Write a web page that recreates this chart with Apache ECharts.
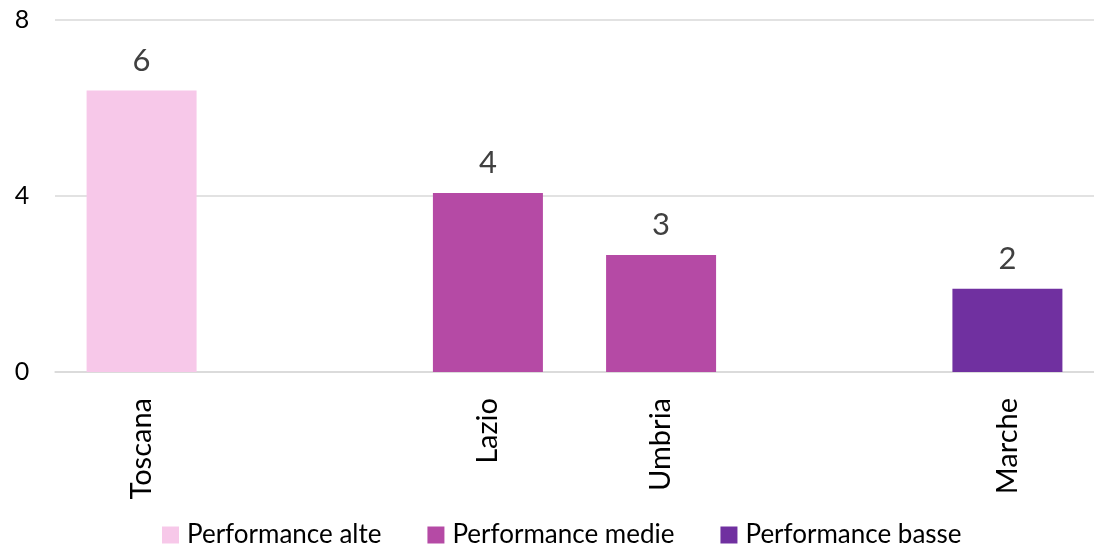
<!DOCTYPE html>
<html><head><meta charset="utf-8">
<script src="https://cdn.jsdelivr.net/npm/echarts@6/dist/echarts.min.js"></script>
<style>html,body{margin:0;padding:0;background:#fff}#c{width:1094px;height:550px}</style>
</head><body><div id="c"></div>
<script>
const categories = ['Toscana', '', 'Lazio', 'Umbria', '', 'Marche'];
const seriesNames = ['Performance alte', 'Performance medie', 'Performance basse'];
const alte = [6.4, null, null, null, null, null];
const medie = [null, null, 4.07, 2.66, null, null];
const basse = [null, null, null, null, null, 1.89];
const yTicks = [0, 4, 8];
const colors = ['#F7C8E9', '#B54AA5', '#7030A0'];
const font = 'Lato, "Open Sans", sans-serif';

const chart = echarts.init(document.getElementById('c'));
function mk(name, data, color) {
  return {
    name, type: 'bar', stack: 's', data, barWidth: 110,
    itemStyle: { color },
    label: { show: true, position: 'top', distance: 14, fontFamily: font, fontSize: 31, color: '#404040',
      formatter: p => Math.round(p.value) }
  };
}
chart.setOption({
  animation: false,
  color: colors,
  grid: { left: 55, width: 1045, top: 20, height: 352 },
  legend: {
    top: 522, left: 162, itemWidth: 17, itemHeight: 17, itemGap: 46, icon: 'rect', padding: 0,
    textStyle: { fontFamily: font, fontSize: 26, color: '#000', padding: [0, 0, 0, 3] },
    data: seriesNames
  },
  xAxis: {
    type: 'category', data: categories,
    axisLine: { show: true, lineStyle: { color: '#d9d9d9', width: 1.5 } },
    axisTick: { show: false },
    axisLabel: { rotate: 90, margin: 26, interval: 0, fontFamily: font, fontSize: 29, color: '#000' }
  },
  yAxis: {
    type: 'value', min: 0, max: 8, interval: 4,
    axisLine: { show: false }, axisTick: { show: false },
    splitLine: { lineStyle: { color: '#d9d9d9', width: 1.5 } },
    axisLabel: { margin: 33, fontFamily: font, fontSize: 25, color: '#000', align: 'center' }
  },
  series: [mk(seriesNames[0], alte, colors[0]), mk(seriesNames[1], medie, colors[1]), mk(seriesNames[2], basse, colors[2])]
});
</script></body></html>
